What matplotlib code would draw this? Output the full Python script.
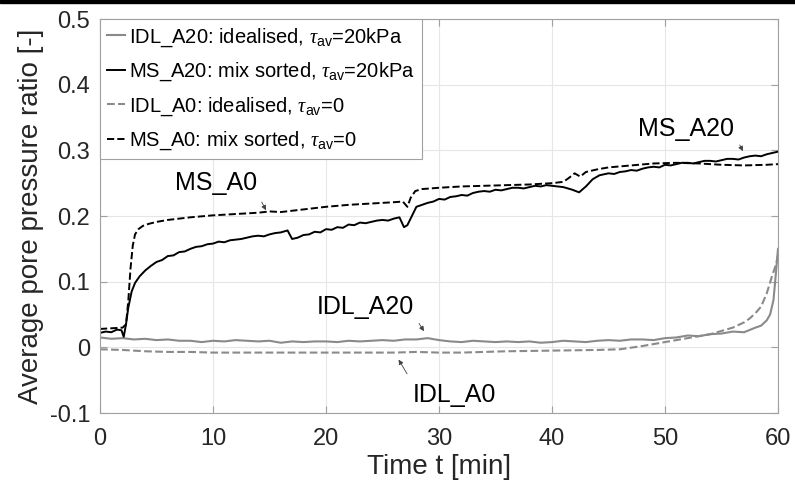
import numpy as np
import matplotlib.pyplot as plt
from matplotlib.patches import Rectangle

plt.rcParams['font.family'] = ['Liberation Sans', 'DejaVu Sans']
plt.rcParams['mathtext.fontset'] = 'custom'
plt.rcParams['mathtext.rm'] = 'Liberation Sans'
plt.rcParams['mathtext.it'] = 'Liberation Serif:italic'

# time [min] and average pore pressure ratio [-]
ms_a20_t = [0, 0.5, 1, 1.5, 1.9, 2.1, 2.3, 2.5, 2.8, 3.1, 3.5, 4, 4.5, 5, 5.5, 6, 6.5, 7, 7.5, 8,
            8.5, 9, 9.5, 10, 10.5, 11, 11.5, 12, 12.5, 13, 13.5, 14, 14.5, 15, 15.5, 16, 16.6, 17, 17.5, 18,
            18.5, 19, 19.5, 20, 20.5, 21, 21.5, 22, 22.5, 23, 23.5, 24, 24.5, 25, 25.5, 26, 26.5, 26.9, 27.2, 27.6,
            28, 28.5, 29, 29.5, 30, 30.5, 31, 31.5, 32, 32.5, 33, 33.5, 34, 34.5, 35, 35.5, 36, 36.5, 37, 37.5,
            38, 38.5, 39, 39.5, 40, 40.5, 41, 41.8, 42.4, 43, 43.6, 44.2, 45, 45.5, 46, 46.5, 47, 47.5, 48, 48.5,
            49, 49.5, 50, 50.5, 51, 51.5, 52, 52.5, 53, 53.5, 54, 54.5, 55, 55.5, 56, 56.5, 57, 57.5, 58, 58.5,
            59, 59.5, 60]
ms_a20_u = [0.022, 0.024, 0.023, 0.027, 0.026, 0.016, 0.035, 0.06, 0.085, 0.098, 0.108, 0.117, 0.124, 0.130, 0.133, 0.139, 0.140, 0.145, 0.146, 0.150,
            0.153, 0.154, 0.157, 0.158, 0.161, 0.160, 0.163, 0.164, 0.165, 0.167, 0.169, 0.170, 0.169, 0.172, 0.174, 0.175, 0.178, 0.165, 0.167, 0.171,
            0.172, 0.176, 0.175, 0.180, 0.179, 0.183, 0.182, 0.187, 0.186, 0.190, 0.189, 0.191, 0.193, 0.194, 0.193, 0.196, 0.198, 0.183, 0.186, 0.200,
            0.214, 0.217, 0.220, 0.222, 0.226, 0.225, 0.229, 0.230, 0.232, 0.231, 0.235, 0.237, 0.238, 0.237, 0.240, 0.239, 0.241, 0.243, 0.243, 0.242,
            0.244, 0.246, 0.245, 0.247, 0.246, 0.245, 0.244, 0.240, 0.236, 0.245, 0.256, 0.262, 0.265, 0.264, 0.267, 0.268, 0.270, 0.269, 0.272, 0.274,
            0.275, 0.274, 0.278, 0.277, 0.279, 0.281, 0.281, 0.280, 0.282, 0.284, 0.284, 0.283, 0.285, 0.287, 0.287, 0.286, 0.289, 0.291, 0.292, 0.291,
            0.294, 0.296, 0.298]

ms_a0_t = [0, 1, 2, 2.3, 2.5, 2.7, 2.9, 3.1, 3.4, 3.8, 4.3, 5, 6, 7, 8, 10, 12, 14, 15, 16,
           18, 20, 22, 24, 25, 26, 26.8, 27.2, 27.5, 27.9, 28.5, 30, 32, 34, 36, 38, 40, 41, 41.5, 42,
           42.5, 43, 44, 45, 47, 49, 51, 53, 55, 57, 59, 60]
ms_a0_u = [0.028, 0.029, 0.030, 0.035, 0.07, 0.12, 0.155, 0.172, 0.180, 0.185, 0.188, 0.191, 0.194, 0.196, 0.198, 0.201, 0.203, 0.205, 0.207, 0.206,
           0.210, 0.214, 0.217, 0.219, 0.220, 0.221, 0.222, 0.214, 0.228, 0.238, 0.241, 0.243, 0.245, 0.246, 0.247, 0.248, 0.250, 0.252, 0.258, 0.265,
           0.260, 0.267, 0.271, 0.274, 0.277, 0.280, 0.281, 0.280, 0.278, 0.277, 0.278, 0.279]

idl_a20_t = [0, 1, 2, 3, 4, 5, 6, 7, 8, 9, 10, 11, 12, 13, 14, 15, 16, 17, 18, 19,
             20, 21, 22, 23, 24, 25, 26, 27, 28, 29, 30, 31, 32, 33, 34, 35, 36, 37, 38, 39,
             40, 41, 42, 43, 44, 45, 46, 47, 48, 49, 50, 51, 52, 53, 54, 55, 56, 57, 58, 58.5,
             59, 59.3, 59.6, 59.8, 60]
idl_a20_u = [0.015, 0.013, 0.014, 0.012, 0.013, 0.011, 0.012, 0.010, 0.010, 0.008, 0.010, 0.009, 0.011, 0.010, 0.009, 0.010, 0.007, 0.009, 0.008, 0.009,
             0.009, 0.008, 0.010, 0.009, 0.010, 0.011, 0.010, 0.012, 0.012, 0.014, 0.011, 0.009, 0.008, 0.010, 0.009, 0.008, 0.009, 0.008, 0.009, 0.007,
             0.008, 0.010, 0.009, 0.008, 0.010, 0.011, 0.010, 0.012, 0.012, 0.011, 0.014, 0.015, 0.018, 0.017, 0.020, 0.021, 0.024, 0.023, 0.030, 0.033,
             0.041, 0.050, 0.072, 0.110, 0.150]

idl_a0_t = [0, 2, 4, 6, 8, 10, 14, 18, 22, 26, 28, 30, 32, 36, 40, 44, 46, 48, 50, 52,
            54, 55, 56, 57, 57.5, 58, 58.5, 59, 59.5, 59.8, 60]
idl_a0_u = [-0.003, -0.004, -0.006, -0.007, -0.007, -0.008, -0.008, -0.008, -0.008, -0.008, -0.007, -0.008, -0.008, -0.006, -0.005, -0.004, -0.003, 0.002, 0.008, 0.014,
            0.020, 0.025, 0.030, 0.038, 0.044, 0.052, 0.062, 0.082, 0.110, 0.125, 0.140]

labels = [r'IDL_A20: idealised, $\tau_{\rm av}$=20kPa',
          r'MS_A20: mix sorted, $\tau_{\rm av}$=20kPa',
          r'IDL_A0: idealised, $\tau_{\rm av}$=0',
          r'MS_A0: mix sorted, $\tau_{\rm av}$=0']

grey = '#8a8a8a'
fig = plt.figure(figsize=(7.95, 4.94), dpi=100)
fig.add_artist(Rectangle((0, 0.994), 1, 0.006, transform=fig.transFigure, color='black'))
ax = fig.add_axes([100/795, 81/494, 678/795, 394/494])

ax.plot(idl_a20_t, idl_a20_u, '-', color=grey, lw=1.5, label=labels[0])
ax.plot(ms_a20_t, ms_a20_u, '-', color='black', lw=1.4, label=labels[1])
ax.plot(idl_a0_t, idl_a0_u, '--', color=grey, lw=1.5, label=labels[2])
ax.plot(ms_a0_t, ms_a0_u, '--', color='black', lw=1.4, label=labels[3])

ax.set_xlim(0, 60)
ax.set_ylim(-0.1, 0.5)
ax.set_xticks(np.arange(0, 61, 10))
ax.set_yticks([-0.1, 0, 0.1, 0.2, 0.3, 0.4, 0.5])
ax.set_yticklabels(['-0.1', '0', '0.1', '0.2', '0.3', '0.4', '0.5'])
ax.grid(True, color='#e6e6e6', lw=0.8)
ax.tick_params(direction='in', top=True, right=True, length=5, color='#a0a0a0',
               labelsize=17, labelcolor='#262626')
ax.tick_params(axis='x', pad=11)
ax.tick_params(axis='y', pad=7)
for s in ax.spines.values():
    s.set_color('#a0a0a0')
ax.set_xlabel('Time t [min]', fontsize=20, color='#262626', labelpad=3)
ax.set_ylabel('Average pore pressure ratio [-]', fontsize=20, color='#262626', labelpad=4)

leg = ax.legend(loc='upper left', bbox_to_anchor=(0, 1), borderaxespad=0, fontsize=14.5,
                handlelength=0.9, handletextpad=0.2, labelspacing=0.6, borderpad=0.35,
                fancybox=False, edgecolor='#a0a0a0', framealpha=1)
leg.get_frame().set_linewidth(0.8)

arrow = dict(arrowstyle='-|>', lw=0.6, color='#404040', mutation_scale=7)
ax.text(10.3, 0.251, 'MS_A0', fontsize=18, ha='center', va='center')
ax.annotate('', xy=(14.8, 0.205), xytext=(14.2, 0.225), arrowprops=arrow)
ax.text(51.9, 0.333, 'MS_A20', fontsize=18, ha='center', va='center')
ax.annotate('', xy=(57.0, 0.295), xytext=(56.5, 0.312), arrowprops=arrow)
ax.text(23.5, 0.062, 'IDL_A20', fontsize=18, ha='center', va='center')
ax.annotate('', xy=(28.8, 0.021), xytext=(28.1, 0.040), arrowprops=arrow)
ax.text(31.4, -0.073, 'IDL_A0', fontsize=18, ha='center', va='center')
ax.annotate('', xy=(26.3, -0.015), xytext=(27.3, -0.044), arrowprops=arrow)

fig.savefig('out.png', dpi=100)
